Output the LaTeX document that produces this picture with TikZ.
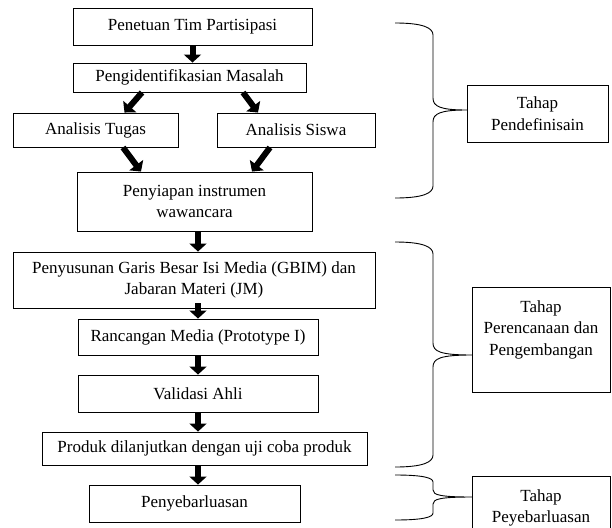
\documentclass[tikz,border=0pt]{standalone}
\usepackage{fontspec}
\setmainfont{Liberation Serif}
\usetikzlibrary{arrows.meta}
\begin{document}
\begin{tikzpicture}[x=1pt, y=-1pt, font=\fontsize{17}{21.5}\selectfont,
    kotak/.style={draw, line width=0.9pt, inner sep=0pt, align=center},
    tahap/.style={draw, line width=0.9pt, inner xsep=0pt, inner ysep=13pt, align=center},
    panah/.style={line width=6pt, -{Triangle[width=17pt,length=8pt]}}]
    \useasboundingbox[fill=white] (0,0) rectangle (612,527);
    % --- kotak alur ---
    \node[kotak, minimum width=239pt, minimum height=37pt] (tim) at (192.5,26.5) {Penetuan Tim Partisipasi};
    \node[kotak, minimum width=233pt, minimum height=29pt] (ident) at (189.5,77.5) {Pengidentifikasian Masalah};
    \node[kotak, minimum width=165pt, minimum height=34pt] (tugas) at (95.5,130) {Analisis Tugas};
    \node[kotak, minimum width=158pt, minimum height=34pt] (siswa) at (296,130) {Analisis Siswa};
    \node[kotak, minimum width=235pt, minimum height=59pt] (siap) at (194.5,201.5) {Penyiapan instrumen\\wawancara};
    \node[kotak, minimum width=362pt, minimum height=56pt] (gbim) at (194,280) {Penyusunan Garis Besar Isi Media (GBIM) dan\\Jabaran Materi (JM)};
    \node[kotak, minimum width=240pt, minimum height=36pt] (rancang) at (198,337) {Rancangan Media (Prototype I)};
    \node[kotak, minimum width=240pt, minimum height=37pt] (valid) at (198,393.5) {Validasi Ahli};
    \node[kotak, minimum width=325pt, minimum height=33pt] (produk) at (204.5,448.5) {Produk dilanjutkan dengan uji coba produk};
    \node[kotak, minimum width=211pt, minimum height=37pt] (sebar) at (194.5,503.5) {Penyebarluasan};
    % --- panah ---
    \draw[panah] (tim.south) -- (tim.south |- ident.north);
    \draw[panah] ([xshift=-47.5pt]ident.south) -- ([xshift=29pt]tugas.north);
    \draw[panah] ([xshift=53.5pt]ident.south) -- ([xshift=-38pt]siswa.north);
    \draw[panah] ([xshift=27.5pt]tugas.south) -- ([xshift=-53.5pt]siap.north);
    \draw[panah] ([xshift=-26pt]siswa.south) -- ([xshift=57.5pt]siap.north);
    \draw[panah] ([xshift=3.5pt]siap.south) -- ([xshift=4pt]gbim.north);
    \draw[panah] ([xshift=4pt,yshift=5pt]gbim.south) -- (rancang.north);
    \draw[panah] (rancang.south) -- (valid.north);
    \draw[panah] (valid.south) -- ([xshift=-6.5pt]produk.north);
    \draw[panah] ([xshift=-6.5pt]produk.south) -- ([xshift=3.5pt]sebar.north);
    % --- kotak tahap ---
    \node[tahap, minimum width=141pt, minimum height=57pt, inner ysep=0pt] (definisi) at (537.5,113.5) {Tahap\\Pendefinisain};
    \node[tahap, minimum width=138pt, anchor=north, text depth=24pt] (rencana) at (541,287) {Tahap\\Perencanaan dan\\Pengembangan};
    \node[tahap, minimum width=138pt, anchor=north, text depth=40pt] (luas) at (541,476) {Tahap\\Peyebarluasan};
    % --- kurung kurawal ---
    \foreach \a/\m/\b/\r/\e in {23/110/198/12/467, 242/355/467/12/472, 475/497/520/7/472} {
      \draw[line width=0.9pt] (395,\a) .. controls (423,\a) and (433,\a+0.4*\r) .. (433,\a+\r)
        -- (433,\m-\r) .. controls (433,\m-0.3*\r) and (440,\m) .. (\e,\m)
        .. controls (440,\m) and (433,\m+0.3*\r) .. (433,\m+\r)
        -- (433,\b-\r) .. controls (433,\b-0.4*\r) and (423,\b) .. (395,\b);
    }
\end{tikzpicture}
\end{document}
